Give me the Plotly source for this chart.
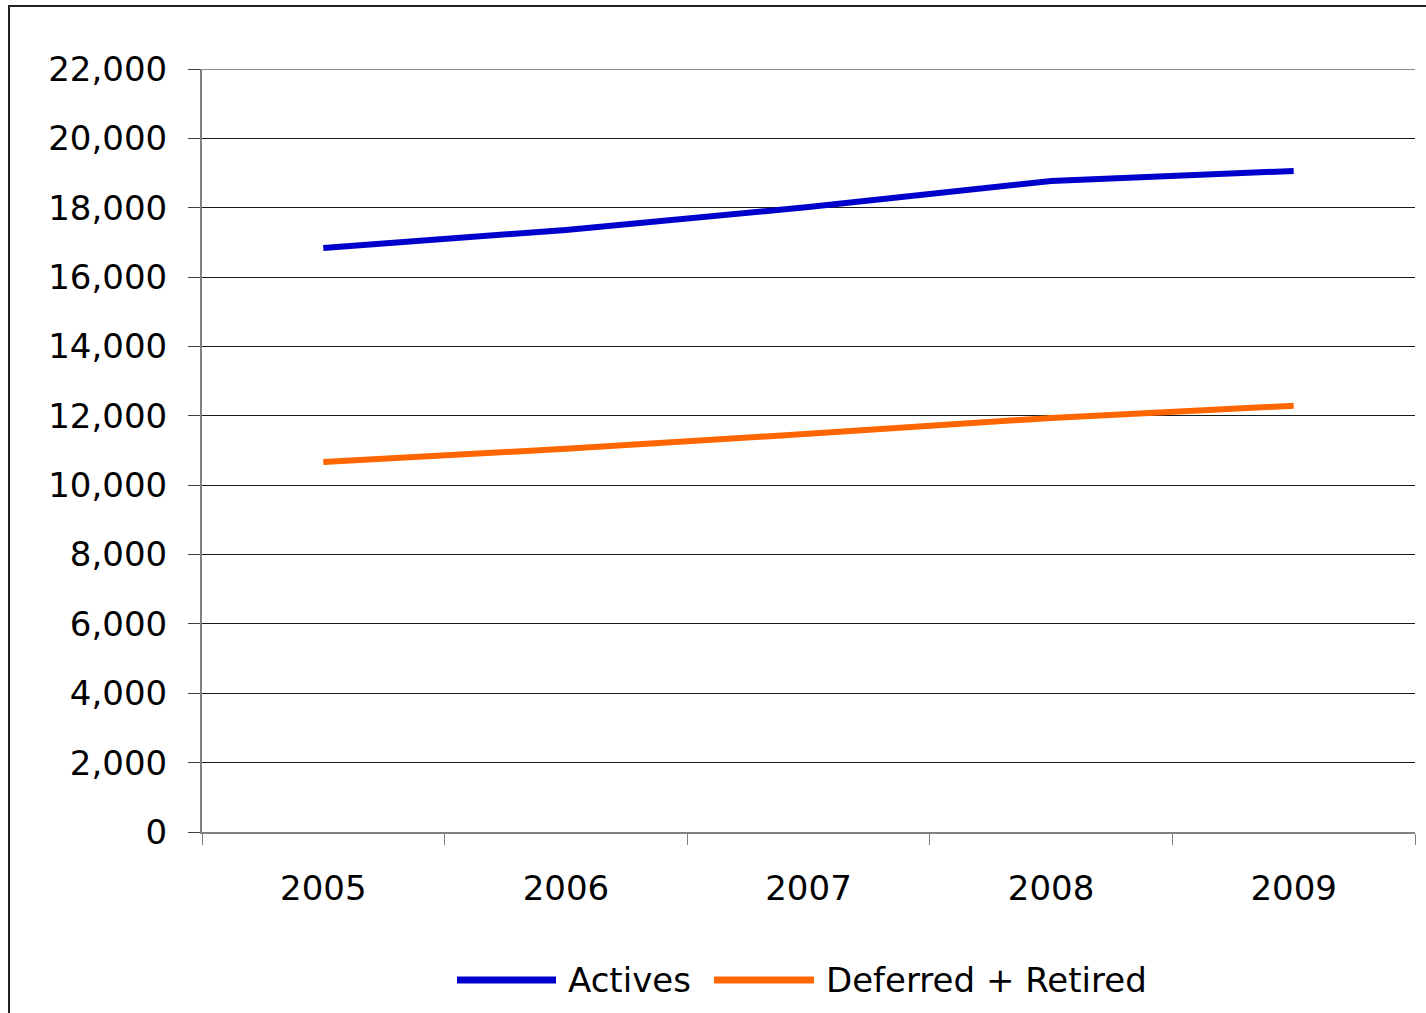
import plotly.graph_objects as go

# Membership counts by year
years = ["2005", "2006", "2007", "2008", "2009"]
actives = [16840, 17360, 18020, 18770, 19060]
deferred_retired = [10670, 11050, 11480, 11940, 12290]

series_names = ["Actives", "Deferred + Retired"]
series_colors = ["#0000CC", "#FF6600"]

y_ticks = list(range(0, 22001, 2000))

FONT = "DejaVu Sans, Verdana, sans-serif"
FS = 34
W, H = 1426, 1013
L, R, T, B = 202, 11, 69, 181

fig = go.Figure()
for name, vals, col in zip(series_names, [actives, deferred_retired], series_colors):
    fig.add_trace(go.Scatter(
        x=years, y=vals, name=name, mode="lines",
        line=dict(color=col, width=6),
        showlegend=False,
    ))

fig.update_layout(
    width=W, height=H,
    margin=dict(l=L, r=R, t=T, b=B, autoexpand=False),
    paper_bgcolor="white", plot_bgcolor="white",
    font=dict(family=FONT, size=FS, color="black"),
)

fig.update_xaxes(
    type="category",
    range=[-0.5, len(years) - 0.5],
    tickson="boundaries",
    ticks="outside", ticklen=11, tickcolor="#808080", tickwidth=1,
    showline=True, linecolor="#808080", linewidth=2,
    showgrid=False,
    automargin=False,
    ticklabelstandoff=25,
    tickfont=dict(size=FS),
)
fig.update_yaxes(
    range=[0, 22000],
    tickvals=y_ticks,
    tickformat=",d",
    ticks="outside", ticklen=12, tickcolor="#404040", tickwidth=1,
    showline=True, linecolor="#808080", linewidth=2,
    showgrid=True, gridcolor="#1a1a1a", gridwidth=1,
    zeroline=False,
    automargin=False,
    ticklabelstandoff=14,
    tickfont=dict(size=FS),
)

# Top gridline sits on the range edge, so it is drawn explicitly
fig.add_shape(type="line", xref="paper", yref="y",
              x0=0, x1=1, y0=y_ticks[-1], y1=y_ticks[-1],
              line=dict(color="#1a1a1a", width=1))

# Outer chart frame
pw, ph = W - L - R, H - T - B
def px_x(v):
    return (v - L) / pw
def px_y(v):
    return (H - B - v) / ph

fig.add_shape(type="rect", xref="paper", yref="paper",
              x0=px_x(9), x1=px_x(W + 20), y0=px_y(H + 20), y1=px_y(6),
              line=dict(color="#222222", width=2), fillcolor="rgba(0,0,0,0)",
              layer="below")

# Legend drawn below the plot area
legend_y = px_y(980)
legend_items = [(457, 556, 566), (714, 814, 824)]
for (lx0, lx1, tx), name, col in zip(legend_items, series_names, series_colors):
    fig.add_shape(type="line", xref="paper", yref="paper",
                  x0=px_x(lx0), x1=px_x(lx1), y0=legend_y, y1=legend_y,
                  line=dict(color=col, width=7))
    fig.add_annotation(xref="paper", yref="paper", x=px_x(tx), y=legend_y,
                       text=name, showarrow=False, xanchor="left", yanchor="middle",
                       font=dict(size=FS, color="black"))

fig.write_html("out.html")
